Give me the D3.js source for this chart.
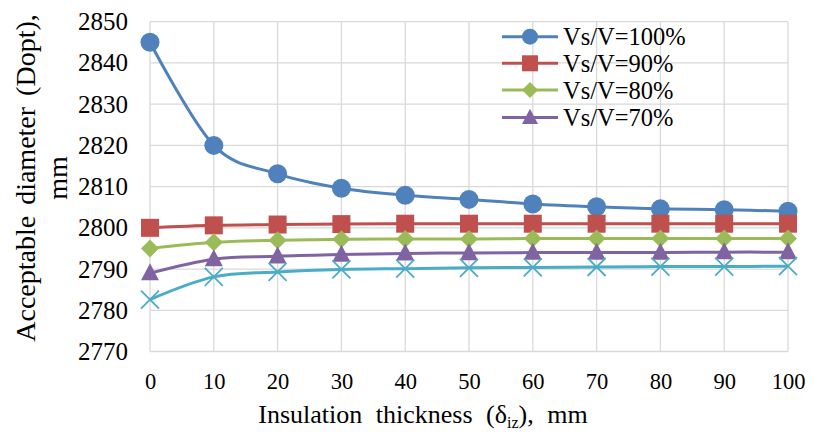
<!DOCTYPE html>
<html><head><meta charset="utf-8">
<script src="https://cdn.jsdelivr.net/npm/d3@7"></script>
</head><body style="margin:0;background:#fff">
<svg id="c" width="813" height="432" font-family="Liberation Serif"></svg>
<script>
const thickness = [0,10,20,30,40,50,60,70,80,90,100];
const yTicks = [2770,2780,2790,2800,2810,2820,2830,2840,2850];
const seriesNames = ["Vs/V=100%","Vs/V=90%","Vs/V=80%","Vs/V=70%",""];
const v100 = [2845,2820,2813.1,2809.6,2807.9,2806.9,2805.8,2805.1,2804.6,2804.4,2804.0];
const v90  = [2800,2800.6,2800.8,2800.9,2801,2801,2801,2801,2801,2801,2801];
const v80  = [2795,2796.5,2797,2797.2,2797.3,2797.3,2797.4,2797.4,2797.4,2797.4,2797.4];
const v70  = [2789,2792.4,2793.1,2793.5,2793.8,2793.9,2794,2794,2794,2794.1,2794.1];
const v60  = [2782.6,2788.1,2789.3,2789.9,2790.1,2790.3,2790.4,2790.5,2790.6,2790.6,2790.7];
const colors = ["#4F81BD","#C0504D","#9BBB59","#8064A2","#4BACC6"];
const markers = ["circle","square","diamond","triangle","x"];
const allSeries = [v100,v90,v80,v70,v60];

const svg = d3.select("#c");
const x = d3.scaleLinear().domain([0,100]).range([150,788]);
const y = d3.scaleLinear().domain([2770,2850]).range([351.5,21.7]);

function txt(sel, size){
  return sel.attr("font-family","Liberation Serif").style("font-family",'"Liberation Serif"').style("font-size",size+"px").attr("fill","#000");
}

// grid
const g = svg.append("g");
g.selectAll("line.h").data(yTicks).join("line")
  .attr("x1",x(0)).attr("x2",x(100)).attr("y1",d=>y(d)).attr("y2",d=>y(d))
  .attr("stroke","#d9d9d9").attr("stroke-width",1.3);
g.selectAll("line.v").data(thickness).join("line")
  .attr("y1",y(2770)).attr("y2",y(2850)).attr("x1",d=>x(d)).attr("x2",d=>x(d))
  .attr("stroke","#d9d9d9").attr("stroke-width",1.3);

// axes
const ya = d3.axisLeft(y).tickValues(yTicks).tickFormat(d3.format("d")).tickSize(0).tickPadding(22);
const yg = svg.append("g").attr("transform","translate(150,0)").call(ya).attr("font-family","Liberation Serif");
yg.select(".domain").remove();
txt(yg.selectAll("text"),25);
const xa = d3.axisBottom(x).tickValues(thickness).tickFormat(d3.format("d")).tickSize(0).tickPadding(22);
const xg = svg.append("g").attr("transform",`translate(0,${y(2770)})`).call(xa).attr("font-family","Liberation Serif");
xg.select(".domain").remove();
txt(xg.selectAll("text"),22.5);

// titles
const xt = txt(svg.append("text").attr("x",423).attr("y",423).attr("text-anchor","middle").style("word-spacing","7px"),26);
xt.append("tspan").text("Insulation thickness (δ");
xt.append("tspan").text("iz").style("font-size","16px").attr("dy",5);
xt.append("tspan").text("), mm").attr("dy",-5);
txt(svg.append("text").attr("transform","translate(35,178) rotate(-90)").attr("text-anchor","middle").style("word-spacing","4px"),28)
  .text("Acceptable diameter (Dopt),");
txt(svg.append("text").attr("transform","translate(67,178) rotate(-90)").attr("text-anchor","middle"),28)
  .text("mm");

function marker(sel, type, color, s){
  if(type==="circle") sel.append("circle").attr("r",s).attr("fill",color);
  else if(type==="square") sel.append("rect").attr("x",-s).attr("y",-s).attr("width",2*s).attr("height",2*s).attr("fill",color);
  else if(type==="diamond") sel.append("path").attr("d",`M0,${-s}L${s},0L0,${s}L${-s},0Z`).attr("fill",color);
  else if(type==="triangle") sel.append("path").attr("d",`M0,${-s*1.1}L${s},${s*0.8}L${-s},${s*0.8}Z`).attr("fill",color);
  else if(type==="x") sel.append("path").attr("d",`M${-s},${-s}L${s},${s}M${-s},${s}L${s},${-s}`).attr("stroke",color).attr("stroke-width",1.8).attr("fill","none");
}
const sizes = [9.5,9,9,9,9];
const line = d3.line().x((d,i)=>x(thickness[i])).y(d=>y(d)).curve(d3.curveCatmullRom.alpha(0));
allSeries.forEach((vals,k)=>{
  const sg = svg.append("g");
  sg.append("path").datum(vals).attr("d",line).attr("fill","none").attr("stroke",colors[k]).attr("stroke-width",3);
  vals.forEach((v,i)=>{
    const mg = sg.append("g").attr("transform",`translate(${x(thickness[i])},${y(v)})`);
    marker(mg, markers[k], colors[k], sizes[k]);
  });
});

// legend
const lg = svg.append("g");
const ly = [36.7,63.3,90,117.5];
seriesNames.slice(0,4).forEach((n,k)=>{
  const row = lg.append("g").attr("transform",`translate(0,${ly[k]})`);
  row.append("line").attr("x1",502).attr("x2",558).attr("stroke",colors[k]).attr("stroke-width",3);
  const mg = row.append("g").attr("transform","translate(530,0)");
  marker(mg, markers[k], colors[k], 8);
  txt(row.append("text").attr("x",563).attr("y",8.5),24.5).text(n);
});
</script>
</body></html>
